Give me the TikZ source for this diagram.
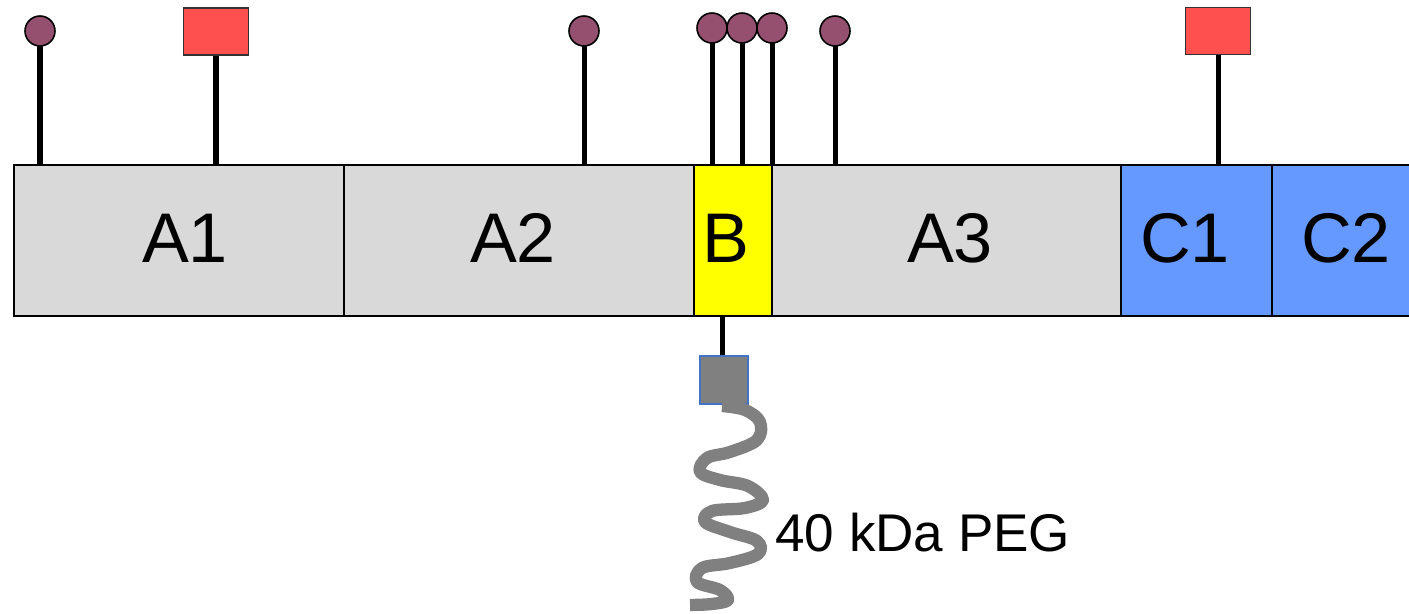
\documentclass[tikz,border=0pt]{standalone}
\usepackage{fontspec}
\setmainfont{Liberation Sans}
\usetikzlibrary{backgrounds}
\definecolor{blockgray}{HTML}{D9D9D9}
\definecolor{blockyellow}{HTML}{FFFF00}
\definecolor{blockblue}{HTML}{6699FF}
\definecolor{modred}{HTML}{FF5050}
\definecolor{modpurple}{HTML}{955070}
\definecolor{peggray}{HTML}{808080}
\definecolor{pegedge}{HTML}{4472C4}
\begin{document}
\begin{tikzpicture}[x=0.02cm,y=-0.02cm,
  block/.style={draw=black,line width=1.1pt,minimum height=3.02cm,inner sep=0pt,anchor=center},
  blabel/.style={font=\fontsize{40}{42}\selectfont,inner sep=0pt},
  stick/.style={line width=2.85pt,black},
  ball/.style={circle,draw=black,line width=0.9pt,fill=modpurple,minimum size=0.6cm,inner sep=0pt},
  flag/.style={rectangle,draw=black!80,line width=0.8pt,fill=modred,minimum width=1.3cm,minimum height=0.94cm,inner sep=0pt},
  pegbox/.style={rectangle,draw=pegedge,line width=0.6pt,fill=peggray,minimum size=0.96cm,inner sep=0pt},
  peg/.style={line width=7pt,peggray}]
\useasboundingbox (0,0) rectangle (1409,614);
% blocks
\node[block,fill=blockgray,minimum width=6.6cm] (A1) at (179,240.5) {};
\node[block,fill=blockgray,minimum width=7.0cm] (A2) at (519,240.5) {};
\node[block,fill=blockyellow,minimum width=1.56cm] (B) at (733,240.5) {};
\node[block,fill=blockgray,minimum width=6.98cm] (A3) at (946.5,240.5) {};
\node[block,fill=blockblue,minimum width=3.02cm] (C1) at (1196.5,240.5) {};
\node[block,fill=blockblue,minimum width=2.96cm] (C2) at (1346,240.5) {};
% block labels
\node[blabel] (lA1) at (185,238) {A1};
\node[blabel] (lA2) at (513,238) {A2};
\node[blabel] (lB) at (726,238) {B};
\node[blabel] (lA3) at (950,238) {A3};
\node[blabel] (lC1) at (1185,238) {C1};
\node[blabel] (lC2) at (1346,238) {C2};
% attachment points on bar top
\coordinate (t1) at (40,165);
\coordinate (t2) at (216,165);
\coordinate (t3) at (584,165);
\coordinate (t4) at (712,165);
\coordinate (t5) at (742,165);
\coordinate (t6) at (772,165);
\coordinate (t7) at (835,165);
\coordinate (t8) at (1218,165);
% heads
\node[ball] (b1) at (40,31) {};
\node[flag] (f1) at (216,31.5) {};
\node[ball] (b2) at (584,31) {};
\node[ball] (b3) at (712,28) {};
\node[ball] (b4) at (742,28) {};
\node[ball] (b5) at (772,28) {};
\node[ball] (b6) at (835,31) {};
\node[flag] (f2) at (1218,31) {};
% sticks behind heads
\begin{scope}[on background layer]
\draw[stick] (t1) -- (b1.center);
\draw[stick] (t2) -- (f1.center);
\draw[stick] (t3) -- (b2.center);
\draw[stick] (t4) -- (b3.center);
\draw[stick] (t5) -- (b4.center);
\draw[stick] (t6) -- (b5.center);
\draw[stick] (t7) -- (b6.center);
\draw[stick] (t8) -- (f2.center);
\end{scope}
% PEG
\coordinate (pb) at (722,316);
\node[pegbox] (pg) at (724,380) {};
\draw[stick] (pb) -- (pg.north -| pb);
\draw[peg,line join=round] plot[smooth,tension=0.6] coordinates {
  (722,406) (745,410) (760,422) (757,440) (730,452) (707,458) (700,472)
  (720,480) (748,486) (763,500) (745,508) (712,511) (705,522)
  (730,532) (757,541) (758,554) (730,563) (702,568) (697,582)
  (720,590) (728,600) (712,604) (690,605)};
\node[anchor=west,font=\fontsize{30.2}{32}\selectfont,inner sep=0pt] (peglabel) at (775,533) {40 kDa PEG};
\end{tikzpicture}
\end{document}
